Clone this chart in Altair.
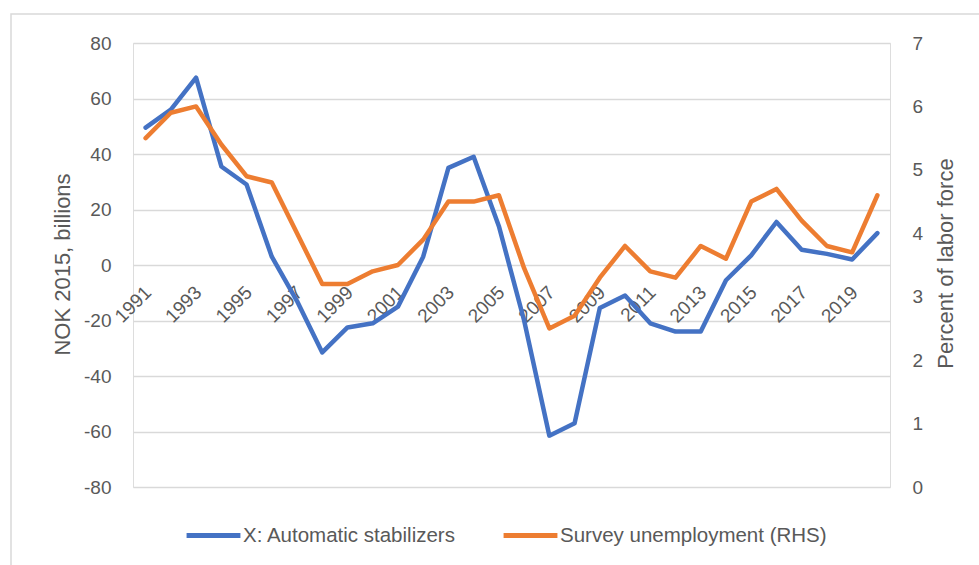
import altair as alt
import pandas as pd

years = list(range(1991, 2021))
series_names = ["X: Automatic stabilizers", "Survey unemployment (RHS)"]
stabilizers = [49.5, 56, 67.5, 35.5, 29, 3, -13, -31.5, -22.5, -21,
               -15, 3, 35, 39, 14, -20, -61.5, -57, -15.5, -11,
               -21, -24, -24, -5.5, 3.5, 15.5, 5.5, 4, 2, 11.5]
unemployment = [5.5, 5.9, 6.0, 5.4, 4.9, 4.8, 4.0, 3.2, 3.2, 3.4,
                3.5, 3.9, 4.5, 4.5, 4.6, 3.45, 2.5, 2.7, 3.3, 3.8,
                3.4, 3.3, 3.8, 3.6, 4.5, 4.7, 4.2, 3.8, 3.7, 4.6]
left_ticks = [-80, -60, -40, -20, 0, 20, 40, 60, 80]
right_ticks = [0, 1, 2, 3, 4, 5, 6, 7]
x_labels = [y for y in years if y % 2 == 1]

df = pd.DataFrame({
    "year": years * 2,
    "series": [series_names[0]] * len(years) + [series_names[1]] * len(years),
    "value": stabilizers + unemployment,
})

FONT = "Liberation Sans"
GREY = "#595959"
GRID = "#D9D9D9"

color = alt.Color(
    "series:N",
    scale=alt.Scale(domain=series_names, range=["#4472C4", "#ED7D31"]),
    legend=alt.Legend(
        title=None, orient="none", direction="horizontal",
        legendX=51, legendY=463,
        symbolType="stroke", symbolSize=2900, symbolStrokeWidth=5,
        labelFontSize=20.5, labelColor=GREY, labelFont=FONT, labelLimit=0,
        labelOffset=0, columnPadding=36,
    ),
)

x_enc = alt.X(
    "year:O",
    scale=alt.Scale(type="point", padding=0.5),
    axis=alt.Axis(
        title=None, values=x_labels, labelAngle=-45, labelAlign="right",
        labelBaseline="middle", labelPadding=24, labelOffset=2, tickSize=0,
        ticks=False, domain=False, grid=False, offset=-222, labelOverlap=False,
        labelFontSize=19, labelColor=GREY, labelFont=FONT,
    ),
)

base = alt.Chart(df)

blue = base.transform_filter(alt.datum.series == series_names[0]).mark_line(
    strokeWidth=4.5, strokeJoin="round", strokeCap="round"
).encode(
    x=x_enc,
    y=alt.Y(
        "value:Q",
        scale=alt.Scale(domain=[-80, 80], nice=False),
        axis=alt.Axis(
            title="NOK 2015, billions", values=left_ticks, grid=True,
            gridColor=GRID, gridWidth=1.3, domain=False, ticks=False,
            labelExpr="datum.value + ''",
            labelPadding=22, labelFontSize=19, labelColor=GREY, labelFont=FONT,
            titleFontSize=22, titleFontWeight="normal", titleColor=GREY,
            titleFont=FONT, titleX=-71, titleY=221, titleAngle=270,
            titleBaseline="middle", titleAlign="center",
        ),
    ),
    color=color,
)

orange = base.transform_filter(alt.datum.series == series_names[1]).mark_line(
    strokeWidth=4.5, strokeJoin="round", strokeCap="round"
).encode(
    x=x_enc,
    y=alt.Y(
        "value:Q",
        scale=alt.Scale(domain=[0, 7], nice=False),
        axis=alt.Axis(
            title="Percent of labor force", orient="right", values=right_ticks,
            grid=False, domain=False, ticks=False,
            labelPadding=22, labelFontSize=19, labelColor=GREY, labelFont=FONT,
            titleFontSize=22, titleFontWeight="normal", titleColor=GREY,
            titleFont=FONT, titleX=55, titleY=220, titleAngle=270,
            titleBaseline="middle", titleAlign="center",
        ),
    ),
    color=color,
)

border = alt.Chart(pd.DataFrame({"b": [0]})).mark_rect(
    filled=False, stroke=GRID, strokeWidth=1.5
).encode(
    x=alt.value(-122), x2=alt.value(900), y=alt.value(-29), y2=alt.value(600)
)

chart = alt.layer(border, blue, orange).resolve_scale(
    y="independent"
).properties(
    width=757, height=444,
    autosize=alt.AutoSizeParams(type="none"),
    padding={"left": 133, "top": 43, "right": 89, "bottom": 78},
    background="white",
).configure_view(stroke=None).configure(font=FONT)

chart.save("out.html", embed_options={"renderer": "svg", "actions": False})
